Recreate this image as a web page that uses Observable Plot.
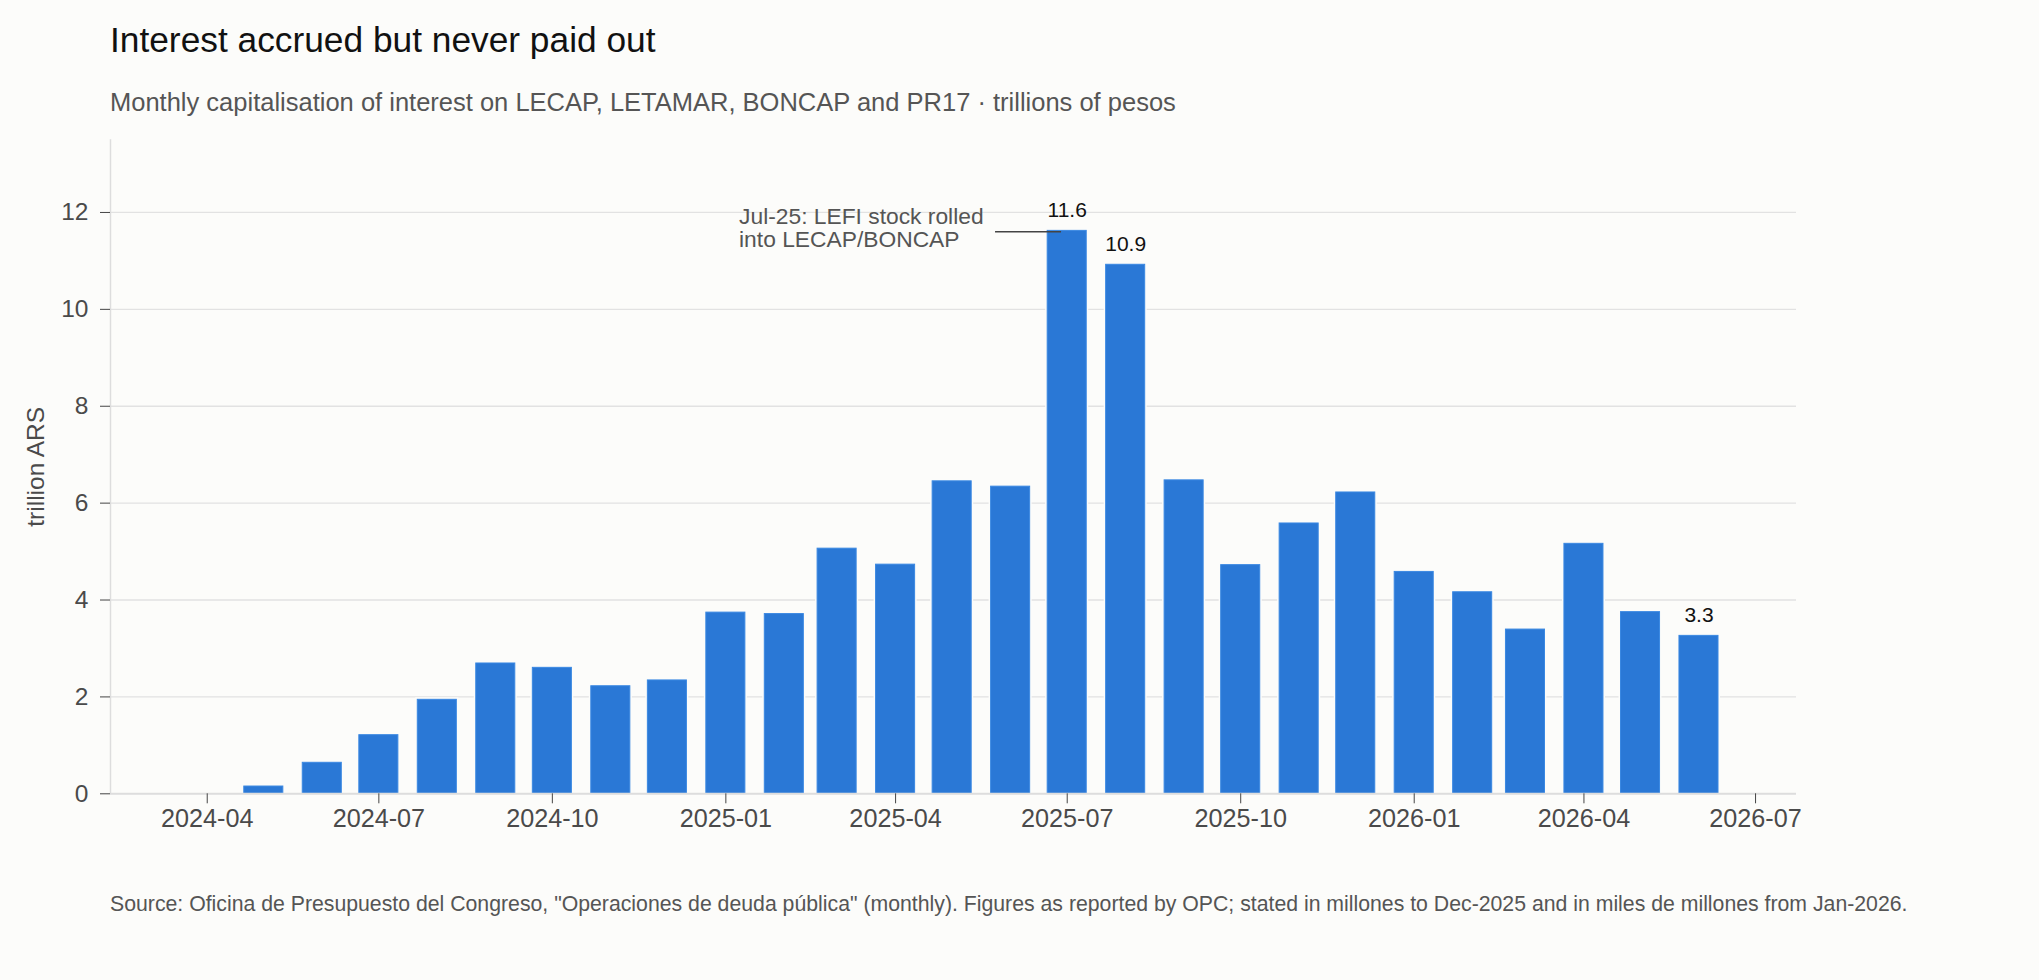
<!DOCTYPE html>
<html><head><meta charset="utf-8">
<script src="https://cdn.jsdelivr.net/npm/d3@7"></script>
<script src="https://cdn.jsdelivr.net/npm/@observablehq/plot@0.6"></script>
<style>
html,body{margin:0;padding:0;background:#fcfcfa;width:2039px;height:980px;overflow:hidden;font-family:"Liberation Sans",Arial,Helvetica,sans-serif;}
#title{position:absolute;left:110px;top:22px;font-size:35.3px;line-height:35.3px;color:#111;white-space:nowrap}
#subtitle{position:absolute;left:110px;top:90.4px;font-size:25.5px;line-height:25.5px;color:#555;white-space:nowrap}
#chart{position:absolute;left:0;top:120px}
#caption{position:absolute;left:110px;top:893.7px;font-size:21.25px;line-height:21.25px;color:#555;white-space:nowrap}
</style></head><body>
<div id="title">Interest accrued but never paid out</div>
<div id="subtitle">Monthly capitalisation of interest on LECAP, LETAMAR, BONCAP and PR17 · trillions of pesos</div>
<div id="chart"></div>
<div id="caption">Source: Oficina de Presupuesto del Congreso, "Operaciones de deuda pública" (monthly). Figures as reported by OPC; stated in millones to Dec-2025 and in miles de millones from Jan-2026.</div>
<script>
const months = ["2024-05","2024-06","2024-07","2024-08","2024-09","2024-10","2024-11","2024-12",
  "2025-01","2025-02","2025-03","2025-04","2025-05","2025-06","2025-07","2025-08","2025-09","2025-10","2025-11","2025-12",
  "2026-01","2026-02","2026-03","2026-04","2026-05","2026-06"];
const values = [0.15,0.64,1.21,1.94,2.69,2.60,2.22,2.34,
  3.74,3.71,5.06,4.73,6.45,6.34,11.62,10.92,6.47,4.72,5.58,6.22,
  4.58,4.16,3.39,5.16,3.75,3.26];
const labelledMonths = ["2025-07","2025-08","2026-06"];
const xTickLabels = ["2024-04","2024-07","2024-10","2025-01","2025-04","2025-07","2025-10","2026-01","2026-04","2026-07"];
const yTickValues = [0,2,4,6,8,10,12];
const yLabel = "trillion ARS";
const noteText = "Jul-25: LEFI stock rolled\ninto LECAP/BONCAP";
const noteTextDate = "2025-01-08";
const noteLineFrom = "2025-05-24";
const noteLineTo = "2025-06-28";
const noteValue = 11.6;

const parseMonth = d3.utcParse("%Y-%m");
const parseDay = d3.utcParse("%Y-%m-%d");
const DAY = 864e5;
const half = 10.35 * DAY;
const data = months.map((m, i) => ({date: parseMonth(m), value: values[i]}));
const labelled = data.filter(d => labelledMonths.includes(d3.utcFormat("%Y-%m")(d.date)));
const xDomain = [new Date("2024-02-09T17:00:00Z"), new Date("2026-07-22T17:00:00Z")];
const yDomain = [0, 13.5];
const note = [{x: parseDay(noteTextDate), x1: parseDay(noteLineFrom), x2: parseDay(noteLineTo), y: noteValue, text: noteText}];
const bg = "#fcfcfa";

const chart = Plot.plot({
  width: 1850,
  height: 733,
  marginLeft: 110,
  marginRight: 54,
  marginTop: 19.3,
  marginBottom: 59.7,
  style: {background: "transparent", fontFamily: '"Liberation Sans", Arial, Helvetica, sans-serif', fontSize: "25px", color: "#555"},
  x: {type: "utc", domain: xDomain},
  y: {domain: yDomain},
  marks: [
    Plot.gridY(yTickValues.filter(v => v > 0), {stroke: "#e2e2e2", strokeOpacity: 1, strokeWidth: 1.3}),
    Plot.ruleX([xDomain[0]], {y1: yDomain[0], y2: yDomain[1], stroke: "#dddddd", strokeWidth: 1.5}),
    Plot.rectY(data, {x1: d => new Date(+d.date - half), x2: d => new Date(+d.date + half), y1: 0, y2: "value", fill: bg, insetLeft: -2, insetRight: -2, insetTop: -2}),
    Plot.rectY(data, {x1: d => new Date(+d.date - half), x2: d => new Date(+d.date + half), y1: 0, y2: "value", fill: "#2a78d6", stroke: "#3a88e2", strokeWidth: 1}),
    Plot.ruleY([0], {stroke: "#dddddd", strokeWidth: 2}),
    Plot.axisY({ticks: yTickValues, tickSize: 10, tickPadding: 12, stroke: "#444", fill: "#4a4a4a", fontSize: 24.5,
      label: yLabel, labelAnchor: "center", labelOffset: 83.5, labelArrow: "none"}),
    Plot.axisX({ticks: xTickLabels.map(parseMonth), tickFormat: d3.utcFormat("%Y-%m"), tickSize: 10, tickPadding: 5.5,
      stroke: "#444", fill: "#4a4a4a", fontSize: 25.2, label: null}),
    Plot.text(labelled, {x: "date", y: "value", text: d => d.value.toFixed(1), lineAnchor: "bottom", dy: -14, fontSize: 21, fill: "#111"}),
    Plot.ruleY(note, {x1: "x1", x2: "x2", y: "y", stroke: "#444", strokeWidth: 1.5}),
    Plot.text(note, {x: "x", y: "y", text: "text", textAnchor: "start", lineAnchor: "middle", fontSize: 22.8, lineHeight: 1.0, fill: "#555", dy: -4})
  ]
});
document.getElementById("chart").appendChild(chart);
</script>
</body></html>
